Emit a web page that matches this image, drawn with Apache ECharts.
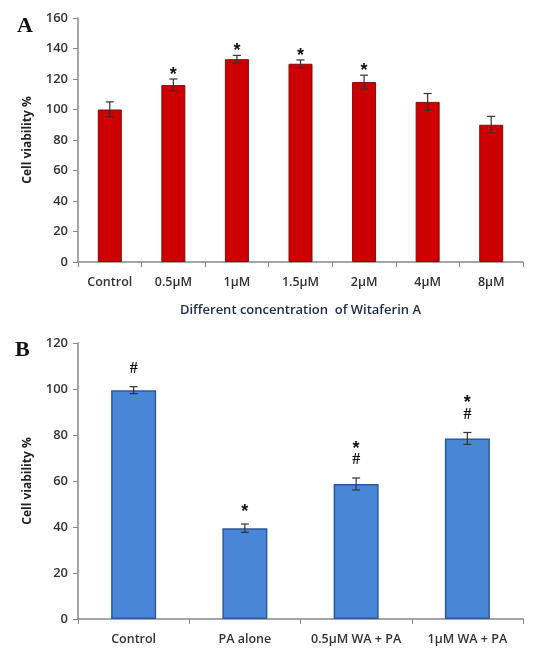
<!DOCTYPE html>
<html>
<head>
<meta charset="utf-8">
<script src="https://cdn.jsdelivr.net/npm/echarts@6/dist/echarts.min.js"></script>
<style>
  html, body { margin: 0; padding: 0; background: #fff; }
  #chart { width: 546px; height: 648px; }
</style>
</head>
<body>
<div id="chart"></div>
<script>
// panel A - Witaferin A dose response
const catsA = ['Control', '0.5µM', '1µM', '1.5µM', '2µM', '4µM', '8µM'];
const valsA = [100, 116, 133, 130, 118, 105, 90];
const errsA = [5, 4, 2.5, 2.5, 4.5, 5.5, 5.5];
const marksA = [[], ['*'], ['*'], ['*'], ['*'], [], []];

// panel B - PA with / without WA
const catsB = ['Control', 'PA alone', '0.5µM WA + PA', '1µM WA + PA'];
const valsB = [99.5, 39.5, 58.7, 78.5];
const errsB = [1.5, 1.8, 2.6, 2.6];
const marksB = [['#'], ['*'], ['#', '*'], ['#', '*']];

const font = 'Open Sans';
const chart = echarts.init(document.getElementById('chart'));

// error bar + significance marks drawn above the bar
function errorSeries(idx, vals, errs, marks, gap, step) {
  return {
    type: 'custom',
    xAxisIndex: idx,
    yAxisIndex: idx,
    z: 10,
    data: vals.map((v, i) => [i, v, errs[i]]),
    renderItem(params, api) {
      const i = api.value(0), v = api.value(1), e = api.value(2);
      const hi = api.coord([i, v + e]);
      const lo = api.coord([i, v - e]);
      const w = 4;
      const style = { stroke: '#333', lineWidth: 1.2 };
      const children = [
        { type: 'line', shape: { x1: hi[0], y1: hi[1], x2: lo[0], y2: lo[1] }, style },
        { type: 'line', shape: { x1: hi[0] - w, y1: hi[1], x2: hi[0] + w, y2: hi[1] }, style },
        { type: 'line', shape: { x1: lo[0] - w, y1: lo[1], x2: lo[0] + w, y2: lo[1] }, style }
      ];
      marks[params.dataIndex].forEach((m, k) => {
        const isStar = m === '*';
        children.push({
          type: 'text',
          style: {
            text: m,
            x: hi[0],
            y: hi[1] - gap - k * step + (isStar ? 6 : 0),
            align: 'center',
            verticalAlign: 'middle',
            fill: '#111',
            font: isStar ? 'bold 18px "Liberation Sans"' : 'bold 16px "Liberation Serif"'
          }
        });
      });
      return { type: 'group', children };
    }
  };
}

const axisLine = { lineStyle: { color: '#888', width: 1.5 } };
const tickLabel = { color: '#333', fontFamily: font, fontSize: 12.5, fontWeight: 600 };

chart.setOption({
  backgroundColor: '#fff',
  animation: false,
  title: [
    { text: 'A', left: 12, top: 10, textStyle: { fontFamily: 'Liberation Serif', fontSize: 22, fontWeight: 'bold', color: '#111' } },
    { text: 'B', left: 10, top: 334, textStyle: { fontFamily: 'Liberation Serif', fontSize: 22, fontWeight: 'bold', color: '#111' } }
  ],
  grid: [
    { left: 78, right: 23, top: 18, height: 244 },
    { left: 78, right: 23, top: 343, height: 276 }
  ],
  xAxis: [
    {
      gridIndex: 0, type: 'category', data: catsA,
      axisLine, axisTick: { show: true, length: 5, lineStyle: { color: '#888' } },
      axisLabel: Object.assign({ margin: 14, interval: 0 }, tickLabel),
      name: 'Different concentration  of Witaferin A', nameLocation: 'middle', nameGap: 42,
      nameTextStyle: { color: '#1f2a4a', fontFamily: font, fontSize: 13, fontWeight: 600 }
    },
    {
      gridIndex: 1, type: 'category', data: catsB,
      axisLine, axisTick: { show: true, length: 5, lineStyle: { color: '#888' } },
      axisLabel: Object.assign({ margin: 14, interval: 0 }, tickLabel)
    }
  ],
  yAxis: [
    {
      gridIndex: 0, type: 'value', min: 0, max: 160, interval: 20,
      axisLine: Object.assign({ show: true }, axisLine),
      axisTick: { show: true, length: 5, lineStyle: { color: '#888' } },
      splitLine: { show: false },
      axisLabel: Object.assign({ margin: 10 }, tickLabel, { fontSize: 13 }),
      name: 'Cell viability %', nameLocation: 'middle', nameGap: 44,
      nameTextStyle: { color: '#222', fontFamily: font, fontSize: 12, fontWeight: 'bold' }
    },
    {
      gridIndex: 1, type: 'value', min: 0, max: 120, interval: 20,
      axisLine: Object.assign({ show: true }, axisLine),
      axisTick: { show: true, length: 5, lineStyle: { color: '#888' } },
      splitLine: { show: false },
      axisLabel: Object.assign({ margin: 10 }, tickLabel, { fontSize: 13 }),
      name: 'Cell viability %', nameLocation: 'middle', nameGap: 44,
      nameTextStyle: { color: '#222', fontFamily: font, fontSize: 12, fontWeight: 'bold' }
    }
  ],
  series: [
    {
      type: 'bar', xAxisIndex: 0, yAxisIndex: 0, data: valsA, barWidth: 24,
      itemStyle: { color: '#cc0000', borderColor: '#8a0a0a', borderWidth: 1 }
    },
    errorSeries(0, valsA, errsA, marksA, 10, 17),
    {
      type: 'bar', xAxisIndex: 1, yAxisIndex: 1, data: valsB, barWidth: 45,
      itemStyle: { color: '#4a86d8', borderColor: '#2a5a98', borderWidth: 1.5 }
    },
    errorSeries(1, valsB, errsB, marksB, 18, 17)
  ]
});
</script>
</body>
</html>
